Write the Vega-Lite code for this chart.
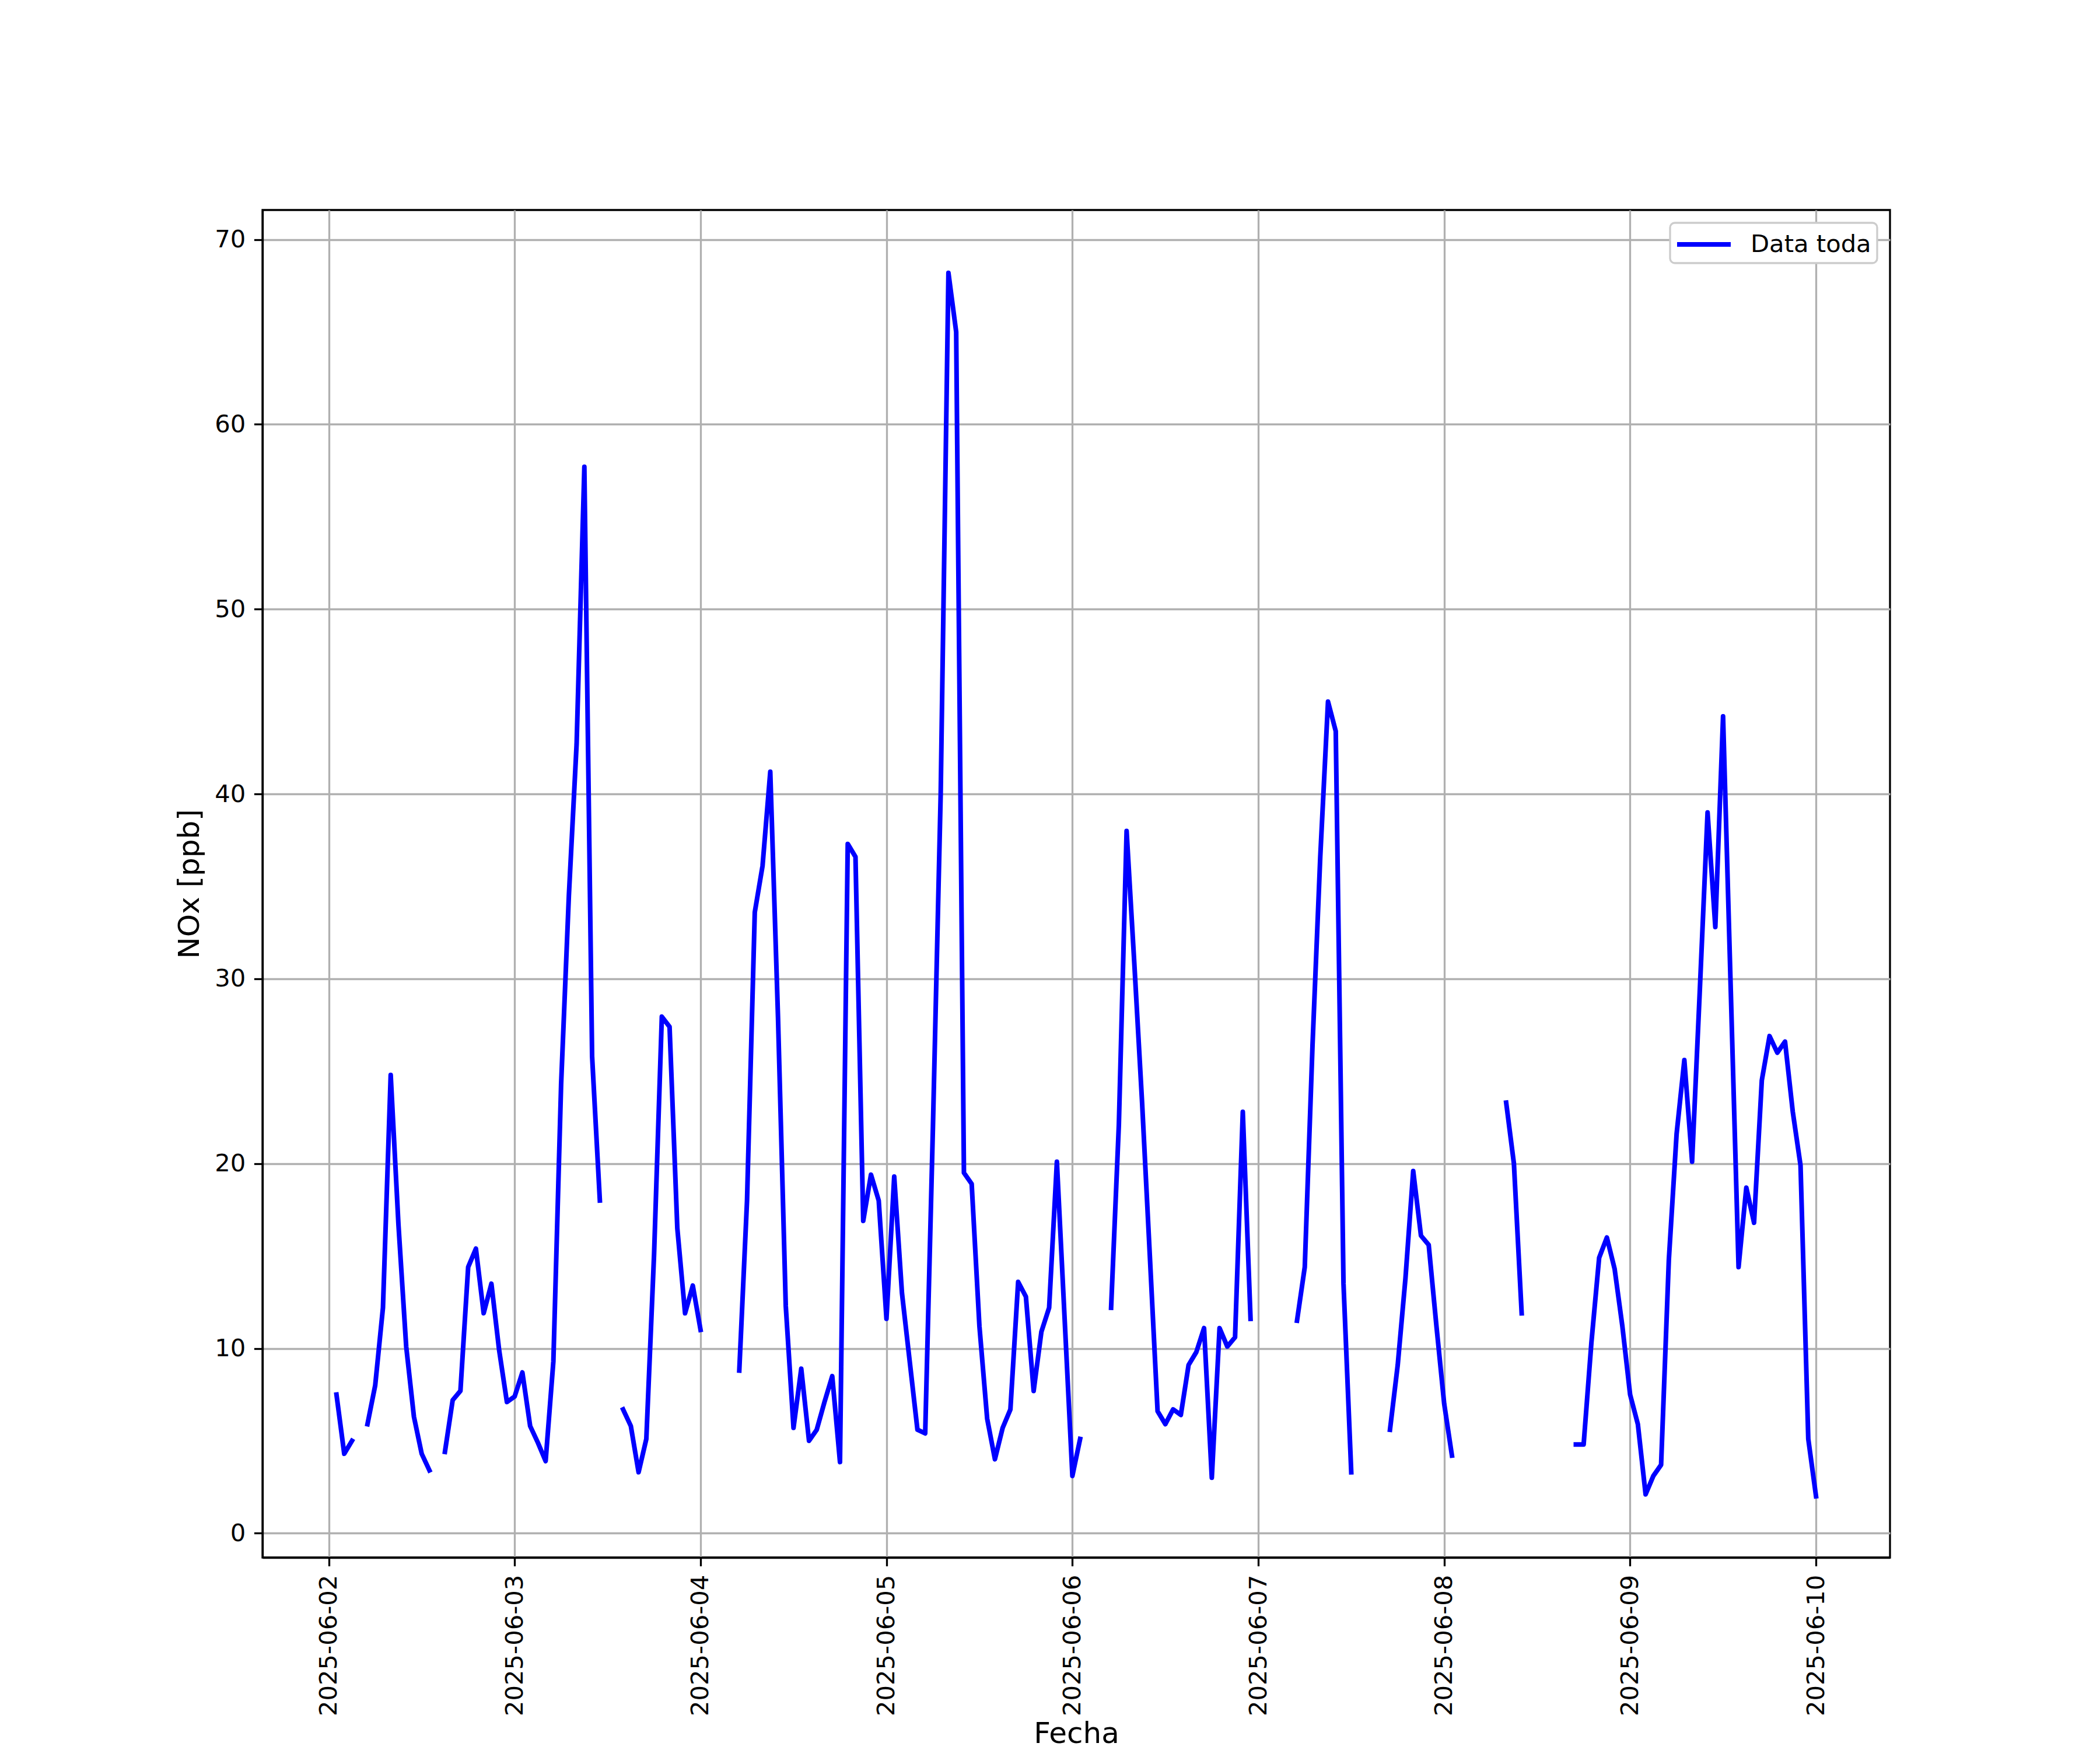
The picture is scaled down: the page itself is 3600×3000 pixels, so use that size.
{
  "$schema": "https://vega.github.io/schema/vega-lite/v6.json",
  "width": 2790,
  "height": 2310,
  "autosize": {"type": "none"},
  "padding": {"left": 450, "top": 360, "right": 360, "bottom": 330},
  "background": "white",
  "config": {
    "font": "DejaVu Sans",
    "view": {"stroke": "black", "strokeWidth": 3.3},
    "axis": {
      "labelFont": "DejaVu Sans",
      "labelFontSize": 41.7,
      "labelColor": "black",
      "titleFont": "DejaVu Sans",
      "titleFontSize": 50,
      "titleFontWeight": "normal",
      "titleColor": "black",
      "tickColor": "black",
      "tickSize": 14.6,
      "tickWidth": 3.3,
      "domainColor": "black",
      "domainWidth": 3.3,
      "gridColor": "#b0b0b0",
      "gridWidth": 3.3,
      "labelPadding": 14.6,
      "labelLimit": 2000,
      "titleLimit": 3000,
      "labelOverlap": false,
      "labelFlush": false
    }
  },
  "data": {
    "values": [
      {"t": "2025-06-02T01:00:00Z", "nox": 7.5},
      {"t": "2025-06-02T02:00:00Z", "nox": 4.3},
      {"t": "2025-06-02T03:00:00Z", "nox": 5.0},
      {"t": "2025-06-02T04:00:00Z", "nox": null},
      {"t": "2025-06-02T05:00:00Z", "nox": 5.9},
      {"t": "2025-06-02T06:00:00Z", "nox": 8.0},
      {"t": "2025-06-02T07:00:00Z", "nox": 12.2},
      {"t": "2025-06-02T08:00:00Z", "nox": 24.8},
      {"t": "2025-06-02T09:00:00Z", "nox": 16.7},
      {"t": "2025-06-02T10:00:00Z", "nox": 10.1},
      {"t": "2025-06-02T11:00:00Z", "nox": 6.3},
      {"t": "2025-06-02T12:00:00Z", "nox": 4.3},
      {"t": "2025-06-02T13:00:00Z", "nox": 3.4},
      {"t": "2025-06-02T14:00:00Z", "nox": null},
      {"t": "2025-06-02T15:00:00Z", "nox": 4.4},
      {"t": "2025-06-02T16:00:00Z", "nox": 7.2},
      {"t": "2025-06-02T17:00:00Z", "nox": 7.7},
      {"t": "2025-06-02T18:00:00Z", "nox": 14.4},
      {"t": "2025-06-02T19:00:00Z", "nox": 15.4},
      {"t": "2025-06-02T20:00:00Z", "nox": 11.9},
      {"t": "2025-06-02T21:00:00Z", "nox": 13.5},
      {"t": "2025-06-02T22:00:00Z", "nox": 9.9},
      {"t": "2025-06-02T23:00:00Z", "nox": 7.1},
      {"t": "2025-06-03T00:00:00Z", "nox": 7.4},
      {"t": "2025-06-03T01:00:00Z", "nox": 8.7},
      {"t": "2025-06-03T02:00:00Z", "nox": 5.8},
      {"t": "2025-06-03T03:00:00Z", "nox": 4.9},
      {"t": "2025-06-03T04:00:00Z", "nox": 3.9},
      {"t": "2025-06-03T05:00:00Z", "nox": 9.3},
      {"t": "2025-06-03T06:00:00Z", "nox": 24.3},
      {"t": "2025-06-03T07:00:00Z", "nox": 34.5},
      {"t": "2025-06-03T08:00:00Z", "nox": 42.7},
      {"t": "2025-06-03T09:00:00Z", "nox": 57.7},
      {"t": "2025-06-03T10:00:00Z", "nox": 25.8},
      {"t": "2025-06-03T11:00:00Z", "nox": 18.0},
      {"t": "2025-06-03T12:00:00Z", "nox": null},
      {"t": "2025-06-03T13:00:00Z", "nox": null},
      {"t": "2025-06-03T14:00:00Z", "nox": 6.7},
      {"t": "2025-06-03T15:00:00Z", "nox": 5.8},
      {"t": "2025-06-03T16:00:00Z", "nox": 3.3},
      {"t": "2025-06-03T17:00:00Z", "nox": 5.1},
      {"t": "2025-06-03T18:00:00Z", "nox": 15.1},
      {"t": "2025-06-03T19:00:00Z", "nox": 27.95},
      {"t": "2025-06-03T20:00:00Z", "nox": 27.4},
      {"t": "2025-06-03T21:00:00Z", "nox": 16.5},
      {"t": "2025-06-03T22:00:00Z", "nox": 11.9},
      {"t": "2025-06-03T23:00:00Z", "nox": 13.4},
      {"t": "2025-06-04T00:00:00Z", "nox": 11.0},
      {"t": "2025-06-04T01:00:00Z", "nox": null},
      {"t": "2025-06-04T02:00:00Z", "nox": null},
      {"t": "2025-06-04T03:00:00Z", "nox": null},
      {"t": "2025-06-04T04:00:00Z", "nox": null},
      {"t": "2025-06-04T05:00:00Z", "nox": 8.8},
      {"t": "2025-06-04T06:00:00Z", "nox": 18.0},
      {"t": "2025-06-04T07:00:00Z", "nox": 33.6},
      {"t": "2025-06-04T08:00:00Z", "nox": 36.1},
      {"t": "2025-06-04T09:00:00Z", "nox": 41.2},
      {"t": "2025-06-04T10:00:00Z", "nox": 27.9},
      {"t": "2025-06-04T11:00:00Z", "nox": 12.3},
      {"t": "2025-06-04T12:00:00Z", "nox": 5.7},
      {"t": "2025-06-04T13:00:00Z", "nox": 8.9},
      {"t": "2025-06-04T14:00:00Z", "nox": 5.0},
      {"t": "2025-06-04T15:00:00Z", "nox": 5.6},
      {"t": "2025-06-04T16:00:00Z", "nox": 7.1},
      {"t": "2025-06-04T17:00:00Z", "nox": 8.5},
      {"t": "2025-06-04T18:00:00Z", "nox": 3.85},
      {"t": "2025-06-04T19:00:00Z", "nox": 37.3},
      {"t": "2025-06-04T20:00:00Z", "nox": 36.6},
      {"t": "2025-06-04T21:00:00Z", "nox": 16.9},
      {"t": "2025-06-04T22:00:00Z", "nox": 19.4},
      {"t": "2025-06-04T23:00:00Z", "nox": 18.0},
      {"t": "2025-06-05T00:00:00Z", "nox": 11.6},
      {"t": "2025-06-05T01:00:00Z", "nox": 19.3},
      {"t": "2025-06-05T02:00:00Z", "nox": 13.0},
      {"t": "2025-06-05T03:00:00Z", "nox": 9.3},
      {"t": "2025-06-05T04:00:00Z", "nox": 5.6},
      {"t": "2025-06-05T05:00:00Z", "nox": 5.4},
      {"t": "2025-06-05T06:00:00Z", "nox": 22.0},
      {"t": "2025-06-05T07:00:00Z", "nox": 40.0},
      {"t": "2025-06-05T08:00:00Z", "nox": 68.2},
      {"t": "2025-06-05T09:00:00Z", "nox": 65.0},
      {"t": "2025-06-05T10:00:00Z", "nox": 19.5},
      {"t": "2025-06-05T11:00:00Z", "nox": 18.9},
      {"t": "2025-06-05T12:00:00Z", "nox": 11.2},
      {"t": "2025-06-05T13:00:00Z", "nox": 6.2},
      {"t": "2025-06-05T14:00:00Z", "nox": 4.0},
      {"t": "2025-06-05T15:00:00Z", "nox": 5.7},
      {"t": "2025-06-05T16:00:00Z", "nox": 6.7},
      {"t": "2025-06-05T17:00:00Z", "nox": 13.6},
      {"t": "2025-06-05T18:00:00Z", "nox": 12.8},
      {"t": "2025-06-05T19:00:00Z", "nox": 7.7},
      {"t": "2025-06-05T20:00:00Z", "nox": 10.9},
      {"t": "2025-06-05T21:00:00Z", "nox": 12.2},
      {"t": "2025-06-05T22:00:00Z", "nox": 20.1},
      {"t": "2025-06-05T23:00:00Z", "nox": 11.6},
      {"t": "2025-06-06T00:00:00Z", "nox": 3.1},
      {"t": "2025-06-06T01:00:00Z", "nox": 5.1},
      {"t": "2025-06-06T02:00:00Z", "nox": null},
      {"t": "2025-06-06T03:00:00Z", "nox": null},
      {"t": "2025-06-06T04:00:00Z", "nox": null},
      {"t": "2025-06-06T05:00:00Z", "nox": 12.2},
      {"t": "2025-06-06T06:00:00Z", "nox": 22.1},
      {"t": "2025-06-06T07:00:00Z", "nox": 38.0},
      {"t": "2025-06-06T08:00:00Z", "nox": 30.8},
      {"t": "2025-06-06T09:00:00Z", "nox": 23.3},
      {"t": "2025-06-06T10:00:00Z", "nox": 15.0},
      {"t": "2025-06-06T11:00:00Z", "nox": 6.6},
      {"t": "2025-06-06T12:00:00Z", "nox": 5.9},
      {"t": "2025-06-06T13:00:00Z", "nox": 6.7},
      {"t": "2025-06-06T14:00:00Z", "nox": 6.4},
      {"t": "2025-06-06T15:00:00Z", "nox": 9.1},
      {"t": "2025-06-06T16:00:00Z", "nox": 9.8},
      {"t": "2025-06-06T17:00:00Z", "nox": 11.1},
      {"t": "2025-06-06T18:00:00Z", "nox": 3.0},
      {"t": "2025-06-06T19:00:00Z", "nox": 11.1},
      {"t": "2025-06-06T20:00:00Z", "nox": 10.1},
      {"t": "2025-06-06T21:00:00Z", "nox": 10.6},
      {"t": "2025-06-06T22:00:00Z", "nox": 22.8},
      {"t": "2025-06-06T23:00:00Z", "nox": 11.6},
      {"t": "2025-06-07T00:00:00Z", "nox": null},
      {"t": "2025-06-07T01:00:00Z", "nox": null},
      {"t": "2025-06-07T02:00:00Z", "nox": null},
      {"t": "2025-06-07T03:00:00Z", "nox": null},
      {"t": "2025-06-07T04:00:00Z", "nox": null},
      {"t": "2025-06-07T05:00:00Z", "nox": 11.5},
      {"t": "2025-06-07T06:00:00Z", "nox": 14.4},
      {"t": "2025-06-07T07:00:00Z", "nox": 26.4},
      {"t": "2025-06-07T08:00:00Z", "nox": 36.6},
      {"t": "2025-06-07T09:00:00Z", "nox": 45.0},
      {"t": "2025-06-07T10:00:00Z", "nox": 43.4},
      {"t": "2025-06-07T11:00:00Z", "nox": 13.5},
      {"t": "2025-06-07T12:00:00Z", "nox": 3.3},
      {"t": "2025-06-07T13:00:00Z", "nox": null},
      {"t": "2025-06-07T14:00:00Z", "nox": null},
      {"t": "2025-06-07T15:00:00Z", "nox": null},
      {"t": "2025-06-07T16:00:00Z", "nox": null},
      {"t": "2025-06-07T17:00:00Z", "nox": 5.6},
      {"t": "2025-06-07T18:00:00Z", "nox": 9.1},
      {"t": "2025-06-07T19:00:00Z", "nox": 13.8},
      {"t": "2025-06-07T20:00:00Z", "nox": 19.6},
      {"t": "2025-06-07T21:00:00Z", "nox": 16.1},
      {"t": "2025-06-07T22:00:00Z", "nox": 15.6},
      {"t": "2025-06-07T23:00:00Z", "nox": 11.2},
      {"t": "2025-06-08T00:00:00Z", "nox": 7.0},
      {"t": "2025-06-08T01:00:00Z", "nox": 4.2},
      {"t": "2025-06-08T02:00:00Z", "nox": null},
      {"t": "2025-06-08T03:00:00Z", "nox": null},
      {"t": "2025-06-08T04:00:00Z", "nox": null},
      {"t": "2025-06-08T05:00:00Z", "nox": null},
      {"t": "2025-06-08T06:00:00Z", "nox": null},
      {"t": "2025-06-08T07:00:00Z", "nox": null},
      {"t": "2025-06-08T08:00:00Z", "nox": 23.3},
      {"t": "2025-06-08T09:00:00Z", "nox": 20.0},
      {"t": "2025-06-08T10:00:00Z", "nox": 11.9},
      {"t": "2025-06-08T11:00:00Z", "nox": null},
      {"t": "2025-06-08T12:00:00Z", "nox": null},
      {"t": "2025-06-08T13:00:00Z", "nox": null},
      {"t": "2025-06-08T14:00:00Z", "nox": null},
      {"t": "2025-06-08T15:00:00Z", "nox": null},
      {"t": "2025-06-08T16:00:00Z", "nox": null},
      {"t": "2025-06-08T17:00:00Z", "nox": 4.8},
      {"t": "2025-06-08T18:00:00Z", "nox": 4.8},
      {"t": "2025-06-08T19:00:00Z", "nox": 10.3},
      {"t": "2025-06-08T20:00:00Z", "nox": 14.9},
      {"t": "2025-06-08T21:00:00Z", "nox": 16.0},
      {"t": "2025-06-08T22:00:00Z", "nox": 14.3},
      {"t": "2025-06-08T23:00:00Z", "nox": 11.2},
      {"t": "2025-06-09T00:00:00Z", "nox": 7.5},
      {"t": "2025-06-09T01:00:00Z", "nox": 5.9},
      {"t": "2025-06-09T02:00:00Z", "nox": 2.1},
      {"t": "2025-06-09T03:00:00Z", "nox": 3.1},
      {"t": "2025-06-09T04:00:00Z", "nox": 3.7},
      {"t": "2025-06-09T05:00:00Z", "nox": 14.8},
      {"t": "2025-06-09T06:00:00Z", "nox": 21.6},
      {"t": "2025-06-09T07:00:00Z", "nox": 25.6},
      {"t": "2025-06-09T08:00:00Z", "nox": 20.1},
      {"t": "2025-06-09T09:00:00Z", "nox": 29.4},
      {"t": "2025-06-09T10:00:00Z", "nox": 39.0},
      {"t": "2025-06-09T11:00:00Z", "nox": 32.8},
      {"t": "2025-06-09T12:00:00Z", "nox": 44.2},
      {"t": "2025-06-09T13:00:00Z", "nox": 29.3},
      {"t": "2025-06-09T14:00:00Z", "nox": 14.4},
      {"t": "2025-06-09T15:00:00Z", "nox": 18.7},
      {"t": "2025-06-09T16:00:00Z", "nox": 16.8},
      {"t": "2025-06-09T17:00:00Z", "nox": 24.5},
      {"t": "2025-06-09T18:00:00Z", "nox": 26.9},
      {"t": "2025-06-09T19:00:00Z", "nox": 26.0},
      {"t": "2025-06-09T20:00:00Z", "nox": 26.6},
      {"t": "2025-06-09T21:00:00Z", "nox": 22.8},
      {"t": "2025-06-09T22:00:00Z", "nox": 19.9},
      {"t": "2025-06-09T23:00:00Z", "nox": 5.1},
      {"t": "2025-06-10T00:00:00Z", "nox": 2.0}
    ]
  },
  "mark": {
    "type": "line",
    "strokeWidth": 8,
    "strokeJoin": "round",
    "strokeCap": "square",
    "invalid": "break-paths-show-domains",
    "clip": true
  },
  "encoding": {
    "x": {
      "field": "t",
      "type": "temporal",
      "scale": {
        "type": "utc",
        "domain": [
          {"year": 2025, "month": 6, "date": 1, "hours": 15, "minutes": 27, "utc": true},
          {"year": 2025, "month": 6, "date": 10, "hours": 9, "minutes": 33, "utc": true}
        ]
      },
      "axis": {
        "title": "Fecha",
        "format": "%Y-%m-%d",
        "labelAngle": 270,
        "titleBaseline": "middle",
        "titleY": 302,
        "values": [
          {"year": 2025, "month": 6, "date": 2, "utc": true},
          {"year": 2025, "month": 6, "date": 3, "utc": true},
          {"year": 2025, "month": 6, "date": 4, "utc": true},
          {"year": 2025, "month": 6, "date": 5, "utc": true},
          {"year": 2025, "month": 6, "date": 6, "utc": true},
          {"year": 2025, "month": 6, "date": 7, "utc": true},
          {"year": 2025, "month": 6, "date": 8, "utc": true},
          {"year": 2025, "month": 6, "date": 9, "utc": true},
          {"year": 2025, "month": 6, "date": 10, "utc": true}
        ]
      }
    },
    "y": {
      "field": "nox",
      "type": "quantitative",
      "scale": {"domain": [-1.315, 71.6], "nice": false, "zero": false},
      "axis": {
        "title": "NOx [ppb]",
        "values": [0, 10, 20, 30, 40, 50, 60, 70],
        "titlePadding": 17
      }
    },
    "color": {
      "datum": "Data toda",
      "scale": {"range": ["blue"]},
      "legend": {
        "title": null,
        "orient": "top-right",
        "offset": 22,
        "labelFont": "DejaVu Sans",
        "labelFontSize": 41.7,
        "labelColor": "black",
        "labelLimit": 2000,
        "symbolType": "M-2,0H2",
        "symbolSize": 2116,
        "symbolStrokeWidth": 8,
        "symbolOffset": 21,
        "labelOffset": 53,
        "padding": 10,
        "fillColor": "white",
        "strokeColor": "#cccccc",
        "cornerRadius": 8,
        "encode": {
          "legend": {"update": {"strokeWidth": {"value": 3.3}}}
        }
      }
    }
  }
}
